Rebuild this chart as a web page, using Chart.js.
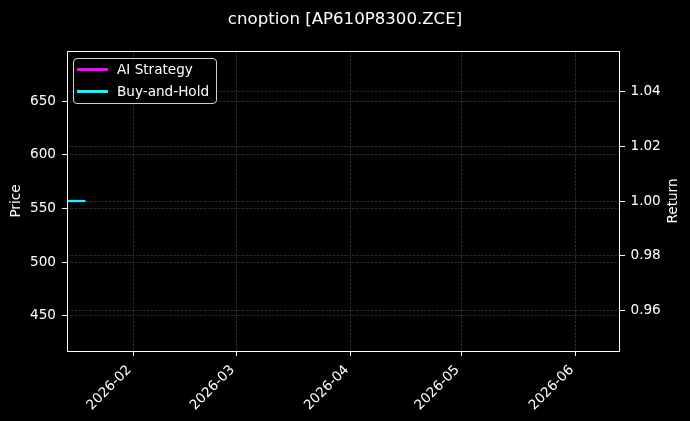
<!DOCTYPE html>
<html>
<head>
<meta charset="utf-8">
<script src="https://cdn.jsdelivr.net/npm/chart.js@4.4.1/dist/chart.umd.min.js"></script>
<style>
html,body{margin:0;padding:0;background:#000;}
#wrap{position:relative;width:690px;height:421px;background:#000;}
canvas{display:block;}
#legend{position:absolute;left:73px;top:58px;width:144px;height:46px;box-sizing:border-box;border:1px solid #cfcfcf;border-radius:4px;background:rgba(0,0,0,0.8);font-family:'DejaVu Sans',sans-serif;font-size:13.6px;color:#fff;}
.item{position:absolute;left:0;height:16px;width:140px;}
.swatch{position:absolute;left:3px;top:7px;width:31px;height:3px;}
.lbl{position:absolute;left:43px;top:-1px;white-space:nowrap;line-height:18px;}
</style>
</head>
<body>
<div id="wrap">
<canvas id="c" width="690" height="421"></canvas>
<div id="legend"></div>
</div>
<script>
// ---- data ----
const dates = ['2026-01-14', '2026-01-15', '2026-01-16', '2026-01-19'];
const aiStrategy = [1.0, 1.0, 1.0, 1.0];
const buyAndHold = [1.0, 1.0, 1.0, 1.0];
const priceDates = ['2026-01-14'];
const priceValues = [557.5];
const xRange = ['2026-01-14', '2026-06-13'];
const monthTicks = ['2026-02', '2026-03', '2026-04', '2026-05', '2026-06'];
const priceTicks = [450, 500, 550, 600, 650];
const priceRange = [417.3, 696.7];
const returnTicks = [0.96, 0.98, 1.00, 1.02, 1.04];
const returnRange = [0.945, 1.055];
const titleText = 'cnoption [AP610P8300.ZCE]';

// ---- helpers ----
const day = s => Date.parse(s.length === 7 ? s + '-01T00:00:00Z' : s + 'T00:00:00Z') / 86400000;
const FONT = 'DejaVu Sans';
const GRID = '#3a3a3a';
const DASH = [2.5, 1.3];

const frame = {
  id: 'frame',
  afterDraw(chart) {
    const a = chart.chartArea, ctx = chart.ctx;
    ctx.save();
    ctx.strokeStyle = '#ffffff';
    ctx.lineWidth = 1;
    ctx.strokeRect(Math.round(a.left) + 0.5, Math.round(a.top) + 0.5,
      Math.round(a.right - a.left) - 1, Math.round(a.bottom - a.top));
    // right axis title (matplotlib style, reading bottom-to-top)
    const s = chart.scales.yRet, t = s.options.title;
    ctx.fillStyle = '#ffffff';
    ctx.font = '13.6px "' + FONT + '"';
    ctx.textAlign = 'center';
    ctx.textBaseline = 'middle';
    ctx.translate(673, (a.top + a.bottom) / 2);
    ctx.rotate(-Math.PI / 2);
    ctx.fillText(t.text, 0, 0);
    ctx.restore();
  }
};

const chart = new Chart(document.getElementById('c'), {
  type: 'line',
  data: {
    datasets: [
      {
        label: 'AI Strategy',
        data: dates.map((d, i) => ({x: day(d), y: aiStrategy[i]})),
        borderColor: '#ff00ff', backgroundColor: '#ff00ff',
        borderWidth: 2.2, pointRadius: 0, yAxisID: 'yRet', order: 2
      },
      {
        label: 'Buy-and-Hold',
        data: dates.map((d, i) => ({x: day(d), y: buyAndHold[i]})),
        borderColor: '#00ffff', backgroundColor: '#00ffff',
        borderWidth: 2.2, pointRadius: 0, yAxisID: 'yRet', order: 1
      },
      {
        label: 'Price',
        data: priceDates.map((d, i) => ({x: day(d), y: priceValues[i]})),
        borderColor: '#ffffff', borderWidth: 1.5, pointRadius: 0, yAxisID: 'yPrice', order: 3
      }
    ]
  },
  options: {
    responsive: false,
    animation: false,
    layout: {padding: 0},
    plugins: {
      legend: {display: false},
      tooltip: {enabled: false},
      title: {
        display: true, text: titleText, color: '#ffffff',
        font: {family: FONT, size: 16.6, weight: 'normal'},
        padding: {top: 10, bottom: 21.1}
      }
    },
    scales: {
      x: {
        type: 'linear',
        min: day(xRange[0]), max: day(xRange[1]),
        afterBuildTicks: s => { s.ticks = monthTicks.map(m => ({value: day(m)})); },
        afterFit: s => { s.height = 70; },
        ticks: {
          color: '#ffffff', font: {family: FONT, size: 13.6},
          minRotation: 45, maxRotation: 45, autoSkip: false, padding: 6, labelOffset: -4,
          callback: v => { const i = monthTicks.findIndex(m => day(m) === v); return i >= 0 ? monthTicks[i] : ''; }
        },
        grid: {color: GRID, lineWidth: 0.8, tickColor: '#ffffff', tickLength: 5, tickWidth: 1},
        border: {display: false, dash: DASH}
      },
      yPrice: {
        type: 'linear', position: 'left',
        min: priceRange[0], max: priceRange[1],
        afterBuildTicks: s => { s.ticks = priceTicks.map(v => ({value: v})); },
        afterFit: s => { s.width = 67; },
        ticks: {color: '#ffffff', font: {family: FONT, size: 13.6}, padding: 6, callback: v => String(v)},
        grid: {color: GRID, lineWidth: 0.8, tickColor: '#ffffff', tickLength: 5, tickWidth: 1},
        border: {display: false, dash: DASH},
        title: {display: true, text: 'Price', color: '#ffffff', font: {family: FONT, size: 13.6}, padding: {top: 8.3, bottom: 0}}
      },
      yRet: {
        type: 'linear', position: 'right',
        min: returnRange[0], max: returnRange[1],
        afterBuildTicks: s => { s.ticks = returnTicks.map(v => ({value: v})); },
        afterFit: s => { s.width = 70; },
        ticks: {color: '#ffffff', font: {family: FONT, size: 13.6}, padding: 5.5, callback: v => Number(v).toFixed(2)},
        grid: {color: GRID, lineWidth: 0.8, tickColor: '#ffffff', tickLength: 5, tickWidth: 1},
        border: {display: false, dash: DASH},
        title: {display: false, text: 'Return', color: '#ffffff', font: {family: FONT, size: 13.6}}
      }
    }
  },
  plugins: [frame]
});

// legend (matplotlib-style, inside plot)
const lg = document.getElementById('legend');
chart.data.datasets.filter(d => d.label !== 'Price').forEach((d, i) => {
  const it = document.createElement('div');
  it.className = 'item';
  it.style.top = (2 + i * 22) + 'px';
  const sw = document.createElement('div');
  sw.className = 'swatch';
  sw.style.background = d.borderColor;
  const tx = document.createElement('div');
  tx.className = 'lbl';
  tx.textContent = d.label;
  it.appendChild(sw); it.appendChild(tx);
  lg.appendChild(it);
});
</script>
</body>
</html>
